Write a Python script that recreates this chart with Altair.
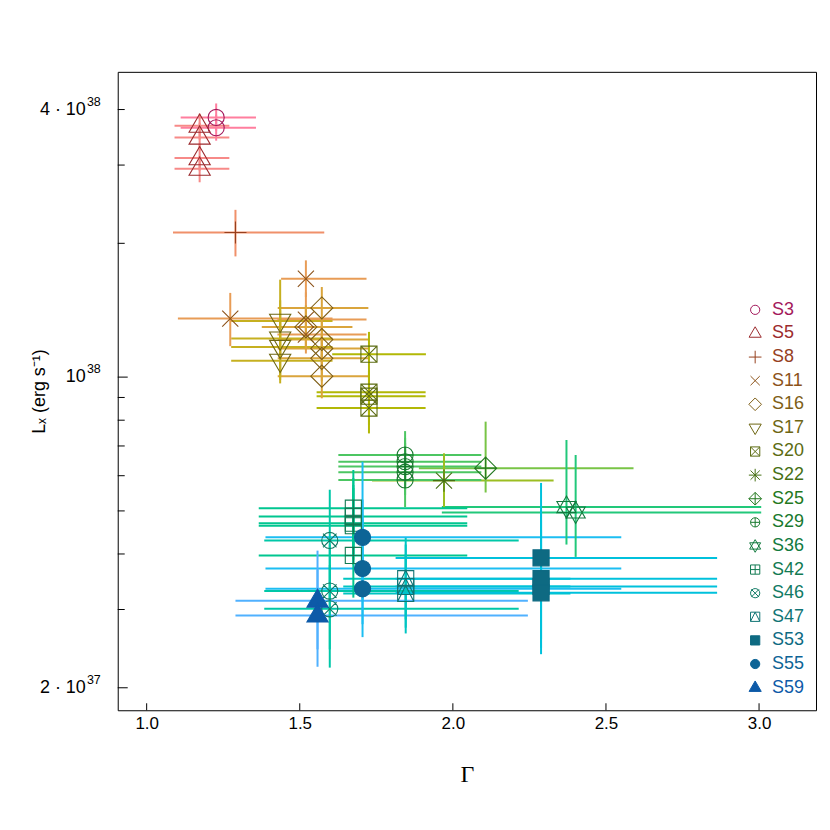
import altair as alt
import pandas as pd

# ---------------- series definitions ----------------
series = ["S3", "S5", "S8", "S11", "S16", "S17", "S20", "S22", "S25",
          "S29", "S36", "S42", "S46", "S47", "S53", "S55", "S59"]
sym_colors = ["#A3195B", "#9C2B2E", "#96401E", "#8C5219", "#7E5E16", "#6E6612",
              "#5C6C12", "#466F14", "#237820", "#18792E", "#127A3E", "#127A52",
              "#117A64", "#107474", "#0E6A82", "#0D6496", "#0D5AA8"]
bar_colors = ["#FF7E9E", "#F78A88", "#F0906A", "#E89C56", "#DAA53C", "#C6B020",
              "#B2B806", "#9CBE22", "#78C446", "#4CC662", "#22C87A", "#00C690",
              "#00C7A8", "#00C5C2", "#00C1DC", "#1CBEF2", "#50B1FF"]
CIRC = "M-0.95,0A0.95,0.95 0 1,0 0.95,0A0.95,0.95 0 1,0 -0.95,0Z"
SQ = "M-0.95,-0.95H0.95V0.95H-0.95Z"
shapes = [
    CIRC,                                                     # S3  pch 1
    "M0,-1.37L1.25,0.78L-1.25,0.78Z",                         # S5  pch 2
    "M-1.3,0H1.3M0,-1.3V1.3",                                 # S8  pch 3
    "M-0.95,-0.95L0.95,0.95M-0.95,0.95L0.95,-0.95",           # S11 pch 4
    "M0,-1.3L1.3,0L0,1.3L-1.3,0Z",                            # S16 pch 5
    "M0,1.37L1.25,-0.78L-1.25,-0.78Z",                        # S17 pch 6
    SQ + "M-0.95,-0.95L0.95,0.95M-0.95,0.95L0.95,-0.95",      # S20 pch 7
    "M-1.3,0H1.3M0,-1.3V1.3M-0.95,-0.95L0.95,0.95M-0.95,0.95L0.95,-0.95",  # S22
    "M0,-1.3L1.3,0L0,1.3L-1.3,0ZM-1.3,0H1.3M0,-1.3V1.3",      # S25 pch 9
    CIRC + "M-0.95,0H0.95M0,-0.95V0.95",                      # S29 pch 10
    "M0,-1.3L1.13,0.65L-1.13,0.65ZM0,1.3L1.13,-0.65L-1.13,-0.65Z",  # S36 pch 11
    SQ + "M-0.95,0H0.95M0,-0.95V0.95",                        # S42 pch 12
    CIRC + "M-0.8,-0.8L0.8,0.8M-0.8,0.8L0.8,-0.8",            # S46 pch 13
    SQ + "M-0.95,0.95L0,-0.95L0.95,0.95",                     # S47 pch 14
    SQ,                                                       # S53 pch 15
    CIRC,                                                     # S55 pch 16
    "M0,-1.37L1.25,0.78L-1.25,0.78Z",                         # S59 pch 17
]
fill_colors = ["transparent"] * 14 + ["#0E6A82", "#0D6496", "#0D5AA8"]

# ---------------- data points (Gamma, Lx) ----------------
pt_series = ["S3", "S3",
             "S5", "S5", "S5", "S5",
             "S8",
             "S11", "S11", "S11", "S11",
             "S16", "S16", "S16", "S16", "S16", "S16",
             "S17", "S17", "S17", "S17",
             "S20", "S20", "S20", "S20",
             "S22",
             "S25",
             "S29", "S29", "S29", "S29", "S29",
             "S36", "S36",
             "S42", "S42", "S42", "S42", "S42",
             "S46", "S46", "S46",
             "S47", "S47", "S47",
             "S53", "S53", "S53", "S53",
             "S55", "S55", "S55",
             "S59", "S59"]
pt_x = [1.227, 1.227,
        1.173, 1.173, 1.173, 1.173,
        1.290,
        1.520, 1.273, 1.520, 1.520,
        1.572, 1.520, 1.572, 1.572, 1.572, 1.572,
        1.436, 1.436, 1.436, 1.436,
        1.726, 1.726, 1.726, 1.726,
        1.971,
        2.107,
        1.844, 1.844, 1.844, 1.844, 1.844,
        2.371, 2.401,
        1.675, 1.675, 1.675, 1.675, 1.675,
        1.598, 1.598, 1.598,
        1.846, 1.846, 1.846,
        2.288, 2.288, 2.288, 2.288,
        1.705, 1.705, 1.705,
        1.558, 1.558]
pt_xlo = [1.111, 1.111,
          1.091, 1.091, 1.091, 1.091,
          1.086,
          1.439, 1.102, 1.427, 1.427,
          1.428, 1.376, 1.428, 1.428, 1.428, 1.428,
          1.276, 1.276, 1.276, 1.276,
          1.606, 1.555, 1.555, 1.555,
          1.736,
          1.889,
          1.626, 1.626, 1.626, 1.626, 1.626,
          1.964, 1.964,
          1.366, 1.366, 1.366, 1.366, 1.366,
          1.384, 1.384, 1.384,
          1.642, 1.642, 1.642,
          1.813, 1.813, 1.813, 1.813,
          1.388, 1.388, 1.388,
          1.290, 1.290]
pt_xhi = [1.357, 1.357,
          1.270, 1.270, 1.270, 1.270,
          1.580,
          1.718, 1.607, 1.718, 1.718,
          1.724, 1.672, 1.724, 1.724, 1.724, 1.724,
          1.607, 1.607, 1.607, 1.607,
          1.912, 1.911, 1.911, 1.911,
          2.329,
          2.590,
          2.093, 2.093, 2.093, 2.093, 2.093,
          3.007, 3.007,
          2.047, 2.047, 2.047, 2.047, 2.047,
          2.215, 2.215, 2.215,
          2.384, 2.384, 2.384,
          2.863, 2.863, 2.863, 2.863,
          2.550, 2.550, 2.550,
          2.245, 2.245]
pt_y = [3.84e38, 3.64e38,
        3.68e38, 3.46e38, 3.11e38, 2.945e38,
        2.116e38,
        1.665e38, 1.354e38, 1.347e38, 1.247e38,
        1.431e38, 1.297e38, 1.215e38, 1.160e38, 1.102e38, 1.005e38,
        1.338e38, 1.221e38, 1.169e38, 1.088e38,
        1.126e38, 0.925e38, 0.906e38, 0.852e38,
        5.85e37,
        6.24e37,
        6.68e37, 6.45e37, 6.29e37, 6.11e37, 5.87e37,
        5.10e37, 4.96e37,
        5.07e37, 4.86e37, 4.69e37, 4.63e37, 3.97e37,
        4.29e37, 3.30e37, 3.01e37,
        3.52e37, 3.38e37, 3.26e37,
        3.92e37, 3.52e37, 3.38e37, 3.27e37,
        4.36e37, 3.71e37, 3.34e37,
        3.14e37, 2.91e37]
pt_ylo = [3.585e38, 3.404e38,
          3.422e38, 3.232e38, 2.914e38, 2.744e38,
          1.869e38,
          1.514e38, 1.174e38, 1.174e38, 1.130e38,
          1.275e38, 1.150e38, 1.081e38, 1.032e38, 0.979e38, 0.896e38,
          1.121e38, 1.010e38, 0.985e38, 0.968e38,
          0.995e38, 0.801e38, 0.780e38, 0.747e38,
          5.10e37,
          5.50e37,
          5.93e37, 5.72e37, 5.58e37, 5.43e37, 5.10e37,
          4.20e37, 3.94e37,
          4.20e37, 3.99e37, 3.88e37, 3.78e37, 3.19e37,
          3.16e37, 2.44e37, 2.22e37,
          2.85e37, 2.73e37, 2.65e37,
          3.16e37, 2.57e37, 2.46e37, 2.38e37,
          3.16e37, 2.78e37, 2.60e37,
          2.44e37, 2.23e37]
pt_yhi = [4.128e38, 3.894e38,
          3.914e38, 3.736e38, 3.352e38, 3.150e38,
          2.379e38,
          1.831e38, 1.547e38, 1.551e38, 1.436e38,
          1.595e38, 1.451e38, 1.356e38, 1.302e38, 1.236e38, 1.126e38,
          1.657e38, 1.489e38, 1.414e38, 1.329e38,
          1.264e38, 1.037e38, 1.021e38, 0.960e38,
          6.74e37,
          7.94e37,
          7.56e37, 7.30e37, 7.11e37, 6.86e37, 6.68e37,
          7.22e37, 6.68e37,
          6.18e37, 5.93e37, 5.72e37, 5.63e37, 4.90e37,
          5.58e37, 4.20e37, 3.78e37,
          4.35e37, 4.20e37, 3.99e37,
          5.78e37, 5.03e37, 4.78e37, 4.54e37,
          6.45e37, 5.30e37, 4.78e37,
          4.07e37, 3.69e37]

# ---------------- axes ----------------
x_domain = [0.9055, 3.186]
y_domain = [1.780e37, 4.863e38]
xtick_vals = [1.0, 1.5, 2.0, 2.5, 3.0]
ytick_minor = [3e37, 4e37, 5e37, 6e37, 7e37, 8e37, 9e37, 2e38, 3e38, 4e38]
ytick_major = [2e37, 1e38]
ylabel_vals = [2e37, 1e38, 4e38]
ylabel_base = ["2 \u00b7 10", "10", "4 \u00b7 10"]
ylabel_exp = ["37", "38", "38"]

W, H = 700, 640
FONT = "Liberation Sans"

df = pd.DataFrame({"series": pt_series, "x": pt_x, "xlo": pt_xlo, "xhi": pt_xhi,
                   "y": pt_y, "ylo": pt_ylo, "yhi": pt_yhi})
df_leg = pd.DataFrame({"series": series})
df_ylab = pd.DataFrame({"v": ylabel_vals, "base": ylabel_base, "exp": ylabel_exp})

xs = alt.Scale(domain=x_domain, nice=False, zero=False)
ys = alt.Scale(type="log", domain=y_domain, nice=False, zero=False)
bar_scale = alt.Scale(domain=series, range=bar_colors)
sym_scale = alt.Scale(domain=series, range=sym_colors)
shape_scale = alt.Scale(domain=series, range=shapes)
fill_scale = alt.Scale(domain=series, range=fill_colors)

x_axis = alt.Axis(values=xtick_vals, format=".1f", ticks=False, domain=False, grid=False,
                  labelPadding=5, labelFontSize=17, labelFont=FONT, labelColor="black",
                  title="Γ", titleFont="Liberation Serif", titleFontSize=24,
                  titleFontWeight="normal", titleY=64, titleBaseline="middle",
                  titleColor="black")
y_axis = alt.Axis(values=ylabel_vals, ticks=False, domain=False, labels=False,
                  grid=False,
                  title="L\u2093 (erg s\u207b\u00b9)", titleFont=FONT, titleFontSize=18,
                  titleFontWeight="normal", titleX=-78, titleY=H / 2, titleAngle=270,
                  titleAlign="center", titleBaseline="middle", titleColor="black")

base = alt.Chart(df)

xbars = base.mark_rule(strokeWidth=2).encode(
    x=alt.X("xlo:Q", scale=xs, axis=None), x2="xhi:Q",
    y=alt.Y("y:Q", scale=ys, axis=None),
    color=alt.Color("series:N", scale=bar_scale, legend=None))
ybars = base.mark_rule(strokeWidth=2).encode(
    x=alt.X("x:Q", scale=xs, axis=None),
    y=alt.Y("ylo:Q", scale=ys, axis=None), y2="yhi:Q",
    color=alt.Color("series:N", scale=bar_scale, legend=None))
points = base.mark_point(filled=True, opacity=1, size=289, strokeWidth=1.1).encode(
    x=alt.X("x:Q", scale=xs, axis=x_axis),
    y=alt.Y("y:Q", scale=ys, axis=y_axis),
    shape=alt.Shape("series:N", scale=shape_scale, legend=None),
    fill=alt.Fill("series:N", scale=fill_scale, legend=None),
    stroke=alt.Stroke("series:N", scale=sym_scale, legend=None))

yt_minor = alt.Chart(pd.DataFrame({"v": ytick_minor})).mark_rule(color="black").encode(
    y=alt.Y("v:Q", scale=ys, axis=None), x=alt.value(0), x2=alt.value(7))
yt_major = alt.Chart(pd.DataFrame({"v": ytick_major})).mark_rule(color="black").encode(
    y=alt.Y("v:Q", scale=ys, axis=None), x=alt.value(0), x2=alt.value(10))
xt = alt.Chart(pd.DataFrame({"v": xtick_vals})).mark_rule(color="black").encode(
    x=alt.X("v:Q", scale=xs, axis=None), y=alt.value(H), y2=alt.value(H - 7))

ylab_base = alt.Chart(df_ylab).mark_text(align="right", baseline="middle", font=FONT,
                                         fontSize=18, color="black").encode(
    y=alt.Y("v:Q", scale=ys, axis=None), x=alt.value(-32), text="base:N")
ylab_exp = alt.Chart(df_ylab).mark_text(align="right", baseline="middle", font=FONT,
                                        fontSize=12.5, color="black", dy=-8).encode(
    y=alt.Y("v:Q", scale=ys, axis=None), x=alt.value(-17), text="exp:N")

leg_y = alt.Y("series:N", sort=series, axis=None,
              scale=alt.Scale(type="point", domain=series, range=[238.6, 617.3], padding=0))
leg_sym = alt.Chart(df_leg).mark_point(filled=True, opacity=1, size=95, strokeWidth=1).encode(
    x=alt.value(639), y=leg_y,
    shape=alt.Shape("series:N", scale=shape_scale, legend=None),
    fill=alt.Fill("series:N", scale=fill_scale, legend=None),
    stroke=alt.Stroke("series:N", scale=sym_scale, legend=None))
leg_txt = alt.Chart(df_leg).mark_text(align="left", baseline="middle", font=FONT,
                                      fontSize=18).encode(
    x=alt.value(656), y=leg_y, text="series:N",
    color=alt.Color("series:N", scale=sym_scale, legend=None))

chart = alt.layer(xbars, ybars, yt_minor, yt_major, xt, ylab_base, ylab_exp,
                  points, leg_sym, leg_txt).resolve_scale(
    x="independent", y="independent", color="independent", shape="independent",
    fill="independent", stroke="independent"
).properties(
    width=W, height=H,
    autosize=alt.AutoSizeParams(type="none"),
    padding={"left": 110, "top": 63, "right": 6, "bottom": 100},
    background="white",
).configure_view(stroke="black", strokeWidth=1)

chart.save("out.html", embed_options={"renderer": "svg", "actions": False})
